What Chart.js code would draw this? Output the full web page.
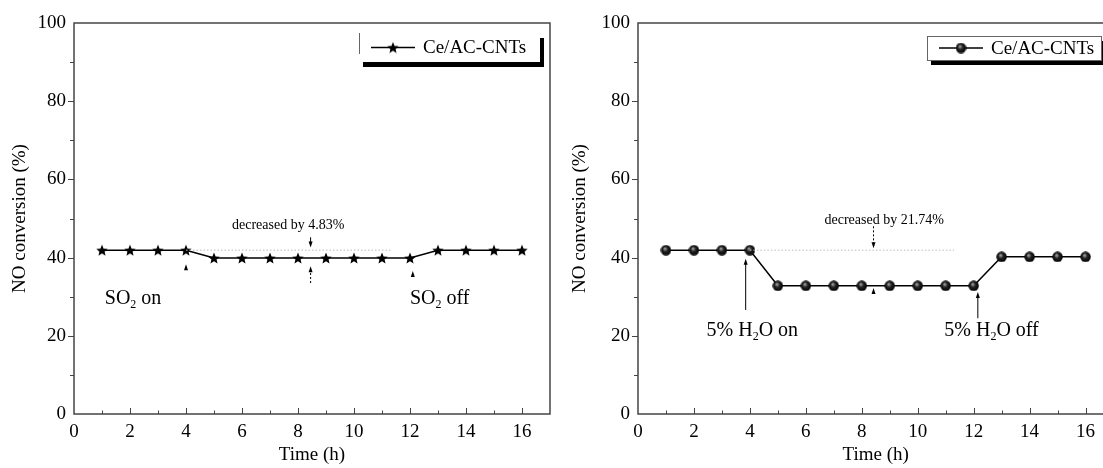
<!DOCTYPE html>
<html>
<head>
<meta charset="utf-8">
<script src="https://cdn.jsdelivr.net/npm/chart.js@4"></script>
<style>
  html, body { margin: 0; padding: 0; background: #fff; overflow: hidden; }
  #wrap { position: relative; width: 1103px; height: 468px; overflow: hidden; }
  .panel { position: absolute; top: 0; width: 560px; height: 468px; }
</style>
</head>
<body>
<div id="wrap">
  <div class="panel" style="left:0"><canvas id="leftChart" width="560" height="468"></canvas></div>
  <div class="panel" style="left:560px"><canvas id="rightChart" width="560" height="468"></canvas></div>
</div>
<script>
// ---- data ----
const hours = [1, 2, 3, 4, 5, 6, 7, 8, 9, 10, 11, 12, 13, 14, 15, 16];
const so2Conversion = [41.9, 41.9, 41.9, 41.9, 39.9, 39.9, 39.9, 39.9, 39.9, 39.9, 39.9, 39.9, 41.9, 41.9, 41.9, 41.9];
const h2oConversion = [41.9, 41.9, 41.9, 41.9, 32.8, 32.8, 32.8, 32.8, 32.8, 32.8, 32.8, 32.8, 40.2, 40.2, 40.2, 40.2];
const xTickLabels = [0, 2, 4, 6, 8, 10, 12, 14, 16];
const yTickLabels = [0, 20, 40, 60, 80, 100];
const seriesName = 'Ce/AC-CNTs';

const FONT = '"Liberation Serif", "DejaVu Serif", serif';

// filled five-point star marker
function makeStar(size) {
    const c = document.createElement('canvas');
    c.width = size; c.height = size;
    const g = c.getContext('2d');
    const cx = size / 2, cy = size / 2 + 0.6, R = size / 2, r = R * 0.45;
    g.beginPath();
    for (let i = 0; i < 10; i++) {
        const rad = i % 2 === 0 ? R : r;
        const a = -Math.PI / 2 + i * Math.PI / 5;
        g.lineTo(cx + rad * Math.cos(a), cy + rad * Math.sin(a));
    }
    g.closePath();
    g.fillStyle = '#000';
    g.fill();
    return c;
}

// shaded ball marker
function makeBall(size) {
    const c = document.createElement('canvas');
    c.width = size; c.height = size;
    const g = c.getContext('2d');
    const r = size / 2;
    const grad = g.createRadialGradient(r * 0.8, r * 0.7, 0.5, r, r, r);
    grad.addColorStop(0, '#a0a0a0');
    grad.addColorStop(0.4, '#222');
    grad.addColorStop(1, '#000');
    g.beginPath();
    g.arc(r, r, r - 0.3, 0, Math.PI * 2);
    g.fillStyle = grad;
    g.fill();
    return c;
}

const starImg = makeStar(12);
const ballImg = makeBall(11);

function arrowHead(ctx, x, y, dir, len, half) {
    // dir: 1 = pointing down, -1 = pointing up; (x,y) is the tip
    ctx.beginPath();
    ctx.moveTo(x, y);
    ctx.lineTo(x - half, y - dir * len);
    ctx.lineTo(x + half, y - dir * len);
    ctx.closePath();
    ctx.fill();
}

function subText(ctx, parts, x, y, size) {
    // parts: [[text, isSub], ...], left aligned at x, middle baseline y
    let cx = x;
    parts.forEach(([t, sub]) => {
        ctx.font = (sub ? Math.round(size * 0.62) : size) + 'px ' + FONT;
        ctx.fillText(t, cx, sub ? y + size * 0.3 : y);
        cx += ctx.measureText(t).width;
    });
}

// frame, ticks, legend and annotations
const decorPlugin = {
    id: 'decor',
    afterDraw(chart, args, opts) {
        const ctx = chart.ctx;
        const a = chart.chartArea;
        const xs = chart.scales.x, ys = chart.scales.y;
        ctx.save();

        // frame
        ctx.strokeStyle = '#444';
        ctx.lineWidth = 1.5;
        ctx.strokeRect(a.left, a.top, a.right - a.left, a.bottom - a.top);

        // x ticks, pointing inward
        ctx.lineWidth = 1;
        for (let v = 1; v < 17; v++) {
            const px = Math.round(xs.getPixelForValue(v)) + 0.5;
            const len = v % 2 === 0 ? 6 : 3.5;
            ctx.beginPath();
            ctx.moveTo(px, a.bottom);
            ctx.lineTo(px, a.bottom - len);
            ctx.stroke();
        }
        // y ticks, pointing outward
        for (let v = 10; v < 100; v += 10) {
            const py = Math.round(ys.getPixelForValue(v)) + 0.5;
            const len = v % 20 === 0 ? 6 : 4;
            ctx.beginPath();
            ctx.moveTo(a.left, py);
            ctx.lineTo(a.left - len, py);
            ctx.stroke();
        }

        // legend box
        const L = opts.legend;
        ctx.fillStyle = '#000';
        ctx.fillRect(L.x + 4, L.y + 5, L.w, L.h);
        ctx.fillStyle = '#fff';
        ctx.fillRect(L.x, L.y, L.w, L.h);
        ctx.strokeStyle = '#666';
        ctx.lineWidth = 1;
        if (L.fullBorder) {
            ctx.strokeRect(L.x + 0.5, L.y + 0.5, L.w, L.h);
        } else {
            ctx.beginPath();
            ctx.moveTo(L.x + 0.5, L.y);
            ctx.lineTo(L.x + 0.5, L.y + L.h - 8);
            ctx.stroke();
        }
        const ly = L.y + L.h / 2;
        ctx.strokeStyle = '#000';
        ctx.lineWidth = 1.5;
        ctx.beginPath();
        ctx.moveTo(L.x + 12, ly);
        ctx.lineTo(L.x + 56, ly);
        ctx.stroke();
        const img = chart.data.datasets[0].pointStyle;
        ctx.drawImage(img, L.x + 34 - img.width / 2, ly - img.height / 2);
        ctx.fillStyle = '#000';
        ctx.font = '19px ' + FONT;
        ctx.textBaseline = 'middle';
        ctx.textAlign = 'left';
        ctx.fillText(seriesName, L.x + 64, ly + 1);

        // annotations in data space
        const N = opts.notes;
        // dotted reference line at the starting level
        ctx.strokeStyle = '#bbb';
        ctx.setLineDash([1.5, 2]);
        ctx.lineWidth = 1;
        ctx.beginPath();
        ctx.moveTo(xs.getPixelForValue(N.refFrom), ys.getPixelForValue(N.refLevel));
        ctx.lineTo(xs.getPixelForValue(N.refTo), ys.getPixelForValue(N.refLevel));
        ctx.stroke();
        ctx.setLineDash([]);

        ctx.fillStyle = '#000';
        ctx.strokeStyle = '#000';
        N.arrows.forEach(ar => {
            const px = xs.getPixelForValue(ar.x);
            const tip = ys.getPixelForValue(ar.tip);
            const dir = ar.down ? 1 : -1;
            if (ar.tail !== undefined) {
                const tail = ys.getPixelForValue(ar.tail);
                ctx.setLineDash(ar.dashed ? [2, 2] : []);
                ctx.lineWidth = 1;
                ctx.beginPath();
                ctx.moveTo(px, tail);
                ctx.lineTo(px, tip - dir * 5);
                ctx.stroke();
                ctx.setLineDash([]);
            }
            arrowHead(ctx, px, tip, dir, 6, 2);
        });

        ctx.textBaseline = 'middle';
        N.texts.forEach(t => {
            const px = xs.getPixelForValue(t.x);
            const py = ys.getPixelForValue(t.y);
            if (t.parts) {
                subText(ctx, t.parts, px, py, t.size);
            } else {
                ctx.font = t.size + 'px ' + FONT;
                ctx.textAlign = 'center';
                ctx.fillText(t.text, px, py);
                ctx.textAlign = 'left';
            }
        });
        ctx.restore();
    }
};

function makeChart(id, values, marker, yWidth, padRight, legend, notes) {
    return new Chart(document.getElementById(id), {
        type: 'line',
        data: {
            labels: hours,
            datasets: [{
                label: seriesName,
                data: hours.map((h, i) => ({ x: h, y: values[i] })),
                borderColor: '#000',
                borderWidth: 1.5,
                pointStyle: marker,
                pointRadius: 5,
                tension: 0
            }]
        },
        options: {
            responsive: false,
            animation: false,
            events: [],
            layout: { padding: { top: 23, right: padRight, left: 0, bottom: 0 } },
            plugins: {
                legend: { display: false },
                tooltip: { enabled: false },
                decor: { legend: legend, notes: notes }
            },
            scales: {
                x: {
                    type: 'linear',
                    min: 0, max: 17,
                    grid: { display: false, drawTicks: false },
                    border: { display: false },
                    afterBuildTicks: s => { s.ticks = xTickLabels.map(v => ({ value: v })); },
                    ticks: {
                        autoSkip: false, maxRotation: 0, padding: 7,
                        color: '#000', font: { family: FONT, size: 19 }
                    },
                    afterFit: s => { s.height = 54; },
                    title: {
                        display: true, text: 'Time (h)', color: '#000',
                        font: { family: FONT, size: 19 }, padding: { top: 0, bottom: 2 }
                    }
                },
                y: {
                    min: 0, max: 100,
                    grid: { display: false, drawTicks: false },
                    border: { display: false },
                    afterBuildTicks: s => { s.ticks = yTickLabels.map(v => ({ value: v })); },
                    ticks: {
                        autoSkip: false, padding: 8,
                        color: '#000', font: { family: FONT, size: 19 }
                    },
                    afterFit: s => { s.width = yWidth; },
                    title: {
                        display: true, text: 'NO conversion (%)', color: '#000',
                        font: { family: FONT, size: 19 }, padding: { top: 9, bottom: 0 }
                    }
                }
            }
        },
        plugins: [decorPlugin]
    });
}

makeChart('leftChart', so2Conversion, starImg, 74, 10,
    { x: 359, y: 33, w: 181, h: 29, fullBorder: false },
    {
        refFrom: 4, refTo: 11.3, refLevel: 41.9,
        arrows: [
            { x: 4, tip: 38.3, down: false },
            { x: 8.45, tip: 42.6, tail: 45.2, down: true },
            { x: 8.45, tip: 37.8, tail: 33.5, down: false, dashed: true },
            { x: 12.1, tip: 36.6, down: false }
        ],
        texts: [
            { x: 7.65, y: 48.3, size: 14, text: 'decreased by 4.83%' },
            { x: 1.1, y: 29.5, size: 20, parts: [['SO', false], ['2', true], [' on', false]] },
            { x: 12.0, y: 29.5, size: 20, parts: [['SO', false], ['2', true], [' off', false]] }
        ]
    });

makeChart('rightChart', h2oConversion, ballImg, 78, 6,
    { x: 367, y: 36, w: 174, h: 24, fullBorder: true },
    {
        refFrom: 4, refTo: 11.3, refLevel: 41.9,
        arrows: [
            { x: 3.85, tip: 39.7, tail: 26.6, down: false },
            { x: 8.42, tip: 42.4, tail: 48, down: true, dashed: true },
            { x: 8.42, tip: 32.2, down: false },
            { x: 12.15, tip: 31.2, tail: 24.5, down: false }
        ],
        texts: [
            { x: 8.8, y: 49.6, size: 14, text: 'decreased by 21.74%' },
            { x: 2.45, y: 21.3, size: 20, parts: [['5% H', false], ['2', true], ['O on', false]] },
            { x: 10.95, y: 21.3, size: 20, parts: [['5% H', false], ['2', true], ['O off', false]] }
        ]
    });
</script>
</body>
</html>
